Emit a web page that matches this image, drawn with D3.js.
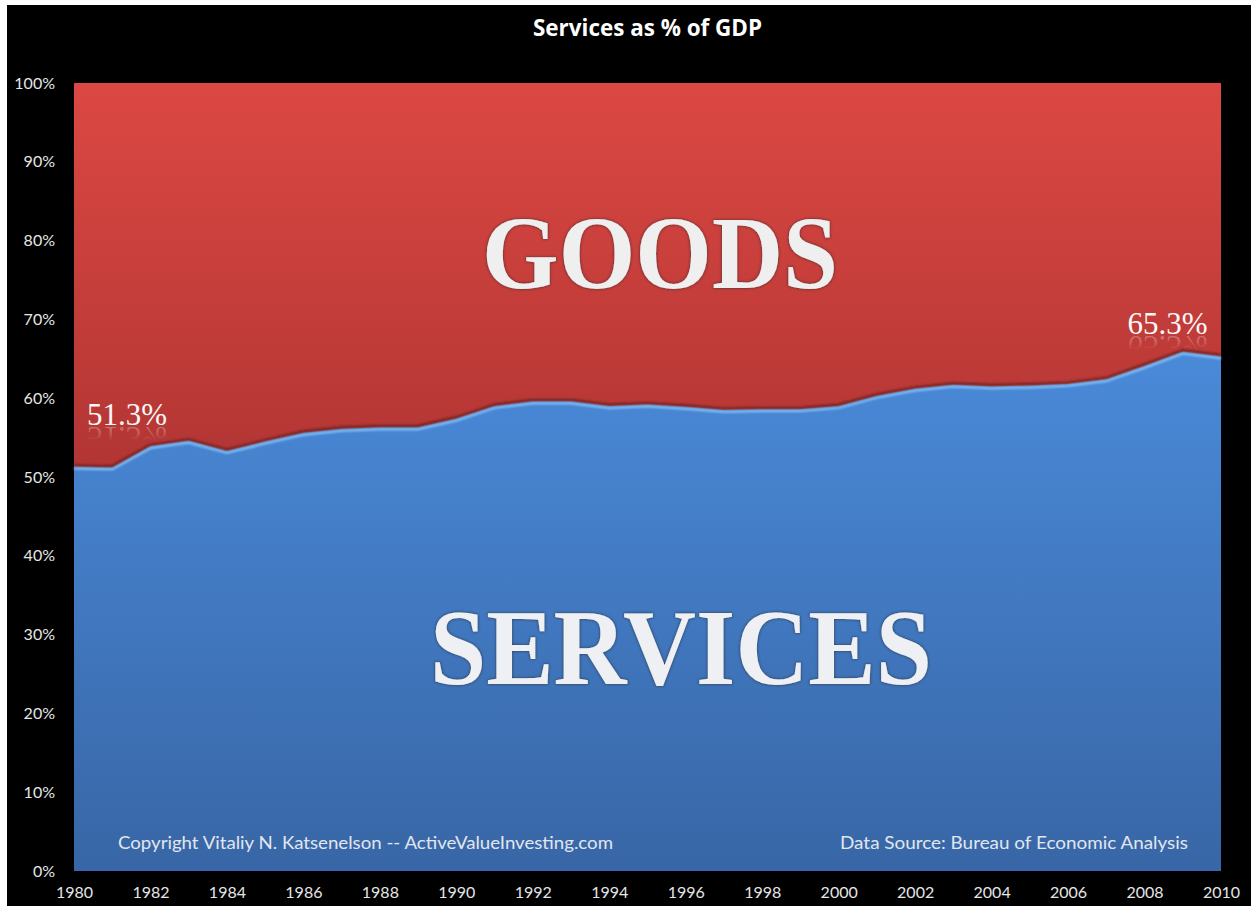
<!DOCTYPE html>
<html>
<head>
<meta charset="utf-8">
<script src="https://cdn.jsdelivr.net/npm/d3@7"></script>
<style>
  html, body { margin: 0; padding: 0; background: #fff; }
  svg { display: block; }
</style>
</head>
<body>
<svg id="chart" width="1251" height="906"></svg>
<script>
const years = d3.range(1980, 2011);
const servicesShare = [
  51.3, 51.2, 53.9, 54.6, 53.3, 54.5, 55.6, 56.1, 56.3, 56.3,
  57.4, 59.0, 59.6, 59.6, 59.0, 59.2, 58.9, 58.5, 58.6, 58.6,
  59.0, 60.3, 61.2, 61.7, 61.5, 61.6, 61.8, 62.4, 64.1, 65.9,
  65.3
];
const yTicks = [0, 10, 20, 30, 40, 50, 60, 70, 80, 90, 100];
const xTicks = d3.range(1980, 2011, 2);
const startLabel = "51.3%";
const endLabel = "65.3%";

const data = years.map((yr, i) => ({ year: yr, v: servicesShare[i] }));

const svg = d3.select("#chart");
const W = 1251, H = 906;
const P = { left: 74, right: 1221, top: 83, bottom: 871 };

// black backdrop with the thin white margin on top/left
svg.append("rect").attr("x", 7).attr("y", 5).attr("width", W - 7).attr("height", H - 5).attr("fill", "#000");

const x = d3.scaleLinear().domain([1980, 2010]).range([P.left, P.right]);
const y = d3.scaleLinear().domain([0, 100]).range([P.bottom, P.top]);

const defs = svg.append("defs");

const redG = defs.append("linearGradient").attr("id", "redG")
  .attr("gradientUnits", "userSpaceOnUse").attr("x1", 0).attr("y1", P.top).attr("x2", 0).attr("y2", y(50));
redG.append("stop").attr("offset", 0).attr("stop-color", "#dc4843");
redG.append("stop").attr("offset", 1).attr("stop-color", "#b13533");

const blueG = defs.append("linearGradient").attr("id", "blueG")
  .attr("gradientUnits", "userSpaceOnUse").attr("x1", 0).attr("y1", y(66)).attr("x2", 0).attr("y2", P.bottom);
blueG.append("stop").attr("offset", 0).attr("stop-color", "#4a8ad9");
blueG.append("stop").attr("offset", 1).attr("stop-color", "#3866a6");

const blur1 = defs.append("filter").attr("id", "blur1").attr("x", "-5%").attr("y", "-50%").attr("width", "110%").attr("height", "200%");
blur1.append("feGaussianBlur").attr("stdDeviation", 1.2);

const emboss = defs.append("filter").attr("id", "emboss").attr("x", "-10%").attr("y", "-20%").attr("width", "120%").attr("height", "140%");
emboss.append("feDropShadow").attr("dx", 0).attr("dy", 0).attr("stdDeviation", 1.6)
  .attr("flood-color", "#2a2a2a").attr("flood-opacity", 0.9);

// reflection fades out moving away from the baseline
const reflG = defs.append("linearGradient").attr("id", "reflG").attr("x1", 0).attr("y1", 0).attr("x2", 0).attr("y2", 1);
reflG.append("stop").attr("offset", 0).attr("stop-color", "#fff").attr("stop-opacity", 1);
reflG.append("stop").attr("offset", 0.6).attr("stop-color", "#fff").attr("stop-opacity", 0);
reflG.append("stop").attr("offset", 1).attr("stop-color", "#fff").attr("stop-opacity", 0);
const reflMask = defs.append("mask").attr("id", "reflMask").attr("maskContentUnits", "objectBoundingBox");
reflMask.append("rect").attr("width", 1).attr("height", 1).attr("fill", "url(#reflG)");

// plot frame (goods fill the whole frame, services drawn over)
svg.append("rect")
  .attr("x", P.left).attr("y", P.top)
  .attr("width", P.right - P.left).attr("height", P.bottom - P.top)
  .attr("fill", "url(#redG)");

const area = d3.area().x(d => x(d.year)).y0(y(0)).y1(d => y(d.v));
const line = d3.line().x(d => x(d.year)).y(d => y(d.v));

svg.append("path").datum(data).attr("d", area).attr("fill", "url(#blueG)");

// bevel along the boundary
svg.append("path").datum(data).attr("d", line)
  .attr("transform", "translate(0,-1.5)")
  .attr("fill", "none").attr("stroke", "#6b2222").attr("stroke-width", 2.2)
  .attr("filter", "url(#blur1)");
svg.append("path").datum(data).attr("d", line)
  .attr("transform", "translate(0,1.8)")
  .attr("fill", "none").attr("stroke", "#8fcaff").attr("stroke-width", 2)
  .attr("filter", "url(#blur1)");

// frame edges
svg.append("line").attr("x1", P.left).attr("x2", P.right).attr("y1", P.top + 1).attr("y2", P.top + 1)
  .attr("stroke", "#f07a72").attr("stroke-width", 2).attr("filter", "url(#blur1)");
svg.append("line").attr("x1", P.left).attr("x2", P.right).attr("y1", P.bottom - 1).attr("y2", P.bottom - 1)
  .attr("stroke", "#2c4f80").attr("stroke-width", 2).attr("filter", "url(#blur1)");

// axes
const axisFont = "Lato, 'Open Sans', sans-serif";
const yAxis = svg.append("g")
  .attr("transform", `translate(${P.left - 19},0)`)
  .call(d3.axisLeft(y).tickValues(yTicks).tickSize(0).tickPadding(0).tickFormat(d => d + "%"));
yAxis.select(".domain").remove();
yAxis.selectAll("text").attr("fill", "#e6e6e6").style("font-family", axisFont).style("font-size", "16px");

const xAxis = svg.append("g")
  .attr("transform", `translate(0,${P.bottom + 16})`)
  .call(d3.axisBottom(x).tickValues(xTicks).tickSize(0).tickPadding(0).tickFormat(d3.format("d")));
xAxis.select(".domain").remove();
xAxis.selectAll("text").attr("fill", "#e6e6e6").style("font-family", axisFont).style("font-size", "16px");

// title
svg.append("text")
  .attr("x", (P.left + P.right) / 2).attr("y", 36)
  .attr("text-anchor", "middle").attr("fill", "#fff")
  .attr("textLength", 229).attr("lengthAdjust", "spacingAndGlyphs")
  .style("font-family", "'Open Sans', sans-serif").style("font-weight", "bold").style("font-size", "24px")
  .text("Services as % of GDP");

// big engraved labels
const serif = "'Liberation Serif', 'DejaVu Serif', serif";
svg.append("text")
  .attr("x", 482).attr("y", 288)
  .attr("textLength", 356).attr("lengthAdjust", "spacingAndGlyphs")
  .attr("fill", "#efefef").attr("filter", "url(#emboss)")
  .style("font-family", serif).style("font-weight", "bold").style("font-size", "104px")
  .text("GOODS");
svg.append("text")
  .attr("x", 430).attr("y", 684)
  .attr("textLength", 502).attr("lengthAdjust", "spacingAndGlyphs")
  .attr("fill", "#eef0f4").attr("filter", "url(#emboss)")
  .style("font-family", serif).style("font-weight", "bold").style("font-size", "108px")
  .text("SERVICES");

// value callouts with a mirrored reflection
function callout(txt, id, x0, base) {
  const g = svg.append("g").style("font-family", serif).style("font-size", "31px");
  g.append("text").attr("id", id).attr("x", x0).attr("y", base).attr("fill", "#f8f8f8")
    .attr("textLength", 80).attr("lengthAdjust", "spacingAndGlyphs").text(txt);
  g.append("g").attr("mask", "url(#reflMask)")
    .append("use").attr("href", "#" + id).attr("opacity", 0.45)
    .attr("transform", `translate(0,${2 * base + 2}) scale(1,-1)`);
}
callout(startLabel, "lblStart", x(1980) + 13, 425);
callout(endLabel, "lblEnd", x(2008) - 17, 334);

// footer notes inside the plot
const noteFont = "Lato, 'Open Sans', sans-serif";
svg.append("text").attr("x", 118).attr("y", 849)
  .attr("textLength", 495).attr("lengthAdjust", "spacingAndGlyphs")
  .attr("fill", "#e2e6ee").style("font-family", noteFont).style("font-size", "17px")
  .text("Copyright Vitaliy N. Katsenelson -- ActiveValueInvesting.com");
svg.append("text").attr("x", 840).attr("y", 849)
  .attr("textLength", 348).attr("lengthAdjust", "spacingAndGlyphs")
  .attr("fill", "#e2e6ee").style("font-family", noteFont).style("font-size", "17px")
  .text("Data Source: Bureau of Economic Analysis");
</script>
</body>
</html>
